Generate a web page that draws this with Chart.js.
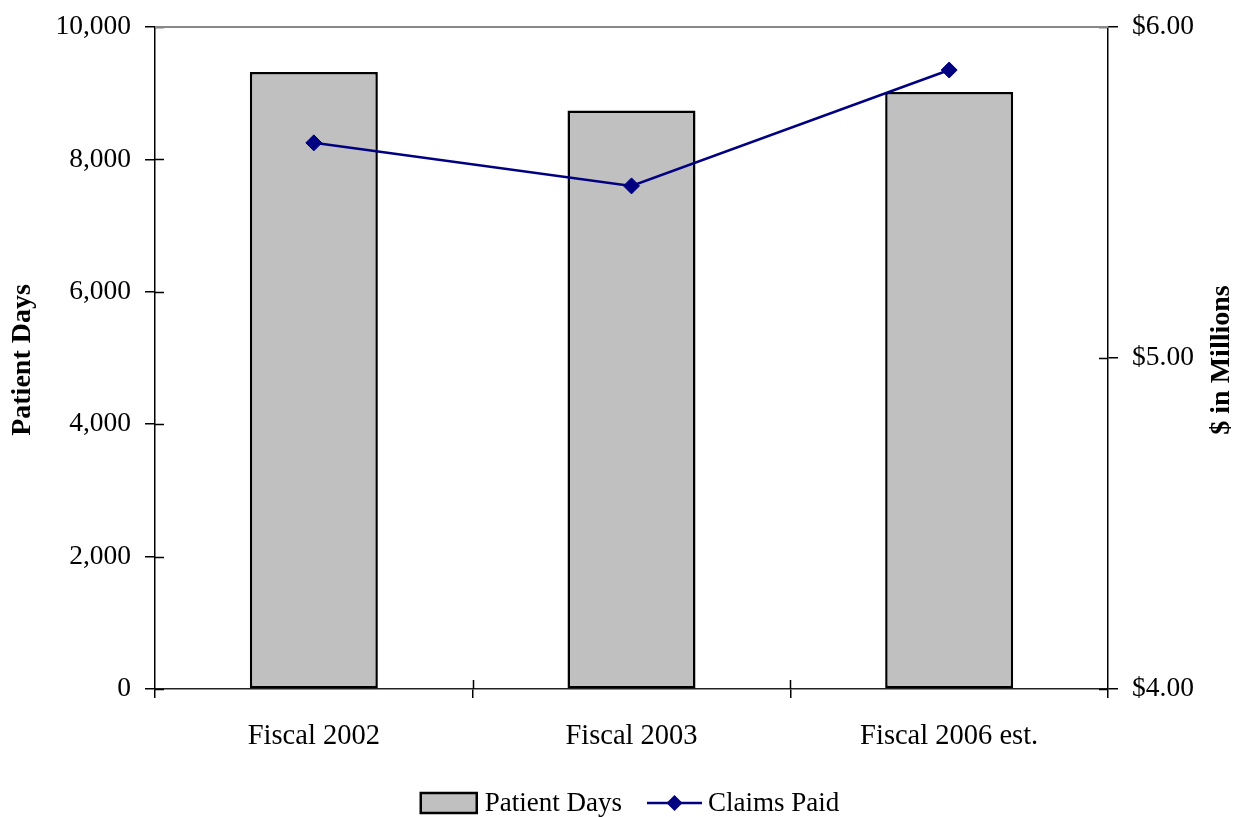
<!DOCTYPE html>
<html>
<head>
<meta charset="utf-8">
<script src="https://cdn.jsdelivr.net/npm/chart.js@4"></script>
<style>
  html, body { margin: 0; padding: 0; background: #fff; }
  #wrap { width: 1239px; height: 817px; }
</style>
</head>
<body>
<div id="wrap"><canvas id="myChart" width="1239" height="817"></canvas></div>
<script>
const categories = ["Fiscal 2002", "Fiscal 2003", "Fiscal 2006 est."];
const patientDays = [9320, 8740, 9020];
const claimsPaid = [5.65, 5.52, 5.87]; // $ millions
const leftTicks = [0, 2000, 4000, 6000, 8000, 10000];
const rightTicks = [4, 5, 6];

const FONT = "'Liberation Serif', 'Times New Roman', serif";
const LINE_COLOR = "#000080";
const BAR_COLOR = "#C0C0C0";

// ticks cross the axis line: the library draws the outer half, this draws the inner half
const crossTicks = {
  id: "crossTicks",
  afterDatasetsDraw(chart) {
    const ctx = chart.ctx;
    const area = chart.chartArea;
    const s = chart.scales;
    ctx.save();
    ctx.strokeStyle = "#000";
    ctx.lineWidth = 1.5;
    ctx.beginPath();
    s.y.ticks.forEach((t, i) => {
      const py = Math.round(s.y.getPixelForTick(i)) + 0.5;
      ctx.moveTo(area.left, py);
      ctx.lineTo(area.left + 9, py);
    });
    s.y1.ticks.forEach((t, i) => {
      const py = Math.round(s.y1.getPixelForTick(i)) + 0.5;
      ctx.moveTo(area.right - 9, py);
      ctx.lineTo(area.right, py);
    });
    for (let i = 1; i < categories.length; i++) {
      const px = Math.round(area.left + (area.right - area.left) * i / categories.length) + 0.5;
      ctx.moveTo(px, area.bottom - 9);
      ctx.lineTo(px, area.bottom);
    }
    ctx.stroke();
    // gray frame line along the top
    ctx.strokeStyle = "#888";
    ctx.lineWidth = 2;
    ctx.beginPath();
    ctx.moveTo(area.left, area.top);
    ctx.lineTo(area.right, area.top);
    ctx.stroke();
    ctx.restore();
  },
  afterDraw(chart) {
    const ctx = chart.ctx;
    const area = chart.chartArea;
    const midY = (area.top + area.bottom) / 2;
    ctx.save();
    // axis titles, both reading bottom to top
    ctx.fillStyle = "#000";
    ctx.font = "bold 28px " + FONT;
    ctx.textAlign = "center";
    ctx.textBaseline = "middle";
    [[23, "Patient Days"], [1222, "$ in Millions"]].forEach(([x, txt]) => {
      ctx.save();
      ctx.translate(x, midY + 2);
      ctx.rotate(-Math.PI / 2);
      ctx.fillText(txt, 0, 0);
      ctx.restore();
    });

    // legend: bar item first, then line item
    const ds = chart.data.datasets;
    const barDs = ds.find((d) => d.type === "bar");
    const lineDs = ds.find((d) => d.type === "line");
    ctx.font = "27px " + FONT;
    ctx.textAlign = "left";
    const w1 = ctx.measureText(barDs.label).width;
    const w2 = ctx.measureText(lineDs.label).width;
    const total = 56 + 8 + w1 + 25 + 55 + 6 + w2;
    let x = 630 - total / 2;
    const y = 803;
    ctx.fillStyle = BAR_COLOR;
    ctx.strokeStyle = "#000";
    ctx.lineWidth = 2.5;
    ctx.fillRect(x, y - 10, 56, 20);
    ctx.strokeRect(x, y - 10, 56, 20);
    x += 64;
    ctx.fillStyle = "#000";
    ctx.fillText(barDs.label, x, y + 1);
    x += w1 + 25;
    ctx.strokeStyle = LINE_COLOR;
    ctx.beginPath();
    ctx.moveTo(x, y);
    ctx.lineTo(x + 55, y);
    ctx.stroke();
    ctx.fillStyle = LINE_COLOR;
    ctx.beginPath();
    ctx.moveTo(x + 27.5 - 8, y);
    ctx.lineTo(x + 27.5, y - 8);
    ctx.lineTo(x + 27.5 + 8, y);
    ctx.lineTo(x + 27.5, y + 8);
    ctx.closePath();
    ctx.fill();
    x += 61;
    ctx.fillStyle = "#000";
    ctx.fillText(lineDs.label, x, y + 1);
    ctx.restore();
  }
};

// fixed axis widths, and no extra room reserved for half-height tick labels
const fixWidth = (w) => (scale) => {
  scale.width = w;
  scale.paddingTop = 0;
  scale.paddingBottom = 0;
};

Chart.defaults.font.family = FONT;
Chart.defaults.color = "#000";

const ctx = document.getElementById("myChart");
const myChart = new Chart(ctx, {
  data: {
    labels: categories,
    datasets: [
      {
        type: "line",
        label: "Claims Paid",
        data: claimsPaid,
        yAxisID: "y1",
        borderColor: LINE_COLOR,
        backgroundColor: LINE_COLOR,
        borderWidth: 2.5,
        pointStyle: "rectRot",
        pointRadius: 8,
        pointBorderWidth: 1,
        tension: 0,
        order: 0,
      },
      {
        type: "bar",
        label: "Patient Days",
        data: patientDays,
        yAxisID: "y",
        backgroundColor: BAR_COLOR,
        borderColor: "#000",
        borderWidth: 2.5,
        borderSkipped: false,
        categoryPercentage: 1,
        barPercentage: 0.403,
        order: 1,
      },
    ],
  },
  plugins: [crossTicks],
  options: {
    responsive: false,
    animation: false,
    layout: { padding: { top: 27, bottom: 70, left: 0, right: 0 } },
    plugins: {
      legend: { display: false },
      tooltip: { enabled: false },
    },
    scales: {
      x: {
        grid: { drawOnChartArea: false, tickLength: 9, color: "#000", lineWidth: 1.5, offset: true },
        border: { color: "#222", width: 1.5 },
        ticks: { font: { size: 28.5 }, padding: 21 },
        afterFit(scale) {
          scale.height = 58;
          scale.paddingLeft = 0;
          scale.paddingRight = 0;
        },
      },
      y: {
        position: "left",
        min: 0,
        max: 10000,
        afterBuildTicks(scale) { scale.ticks = leftTicks.map((v) => ({ value: v })); },
        grid: { drawOnChartArea: false, tickLength: 10, color: "#000", lineWidth: 1.5 },
        border: { color: "#000", width: 1.5 },
        ticks: {
          font: { size: 27.5 },
          padding: 14,
          callback: (v) => v.toLocaleString("en-US"),
        },
        afterFit: fixWidth(155),
      },
      y1: {
        position: "right",
        min: 4,
        max: 6,
        afterBuildTicks(scale) { scale.ticks = rightTicks.map((v) => ({ value: v })); },
        grid: { drawOnChartArea: false, tickLength: 10, color: "#000", lineWidth: 1.5 },
        border: { color: "#000", width: 1.5 },
        ticks: {
          font: { size: 27.5 },
          padding: 14,
          callback: (v) => "$" + v.toFixed(2),
        },
        afterFit: fixWidth(131),
      },
    },
  },
});
</script>
</body>
</html>
